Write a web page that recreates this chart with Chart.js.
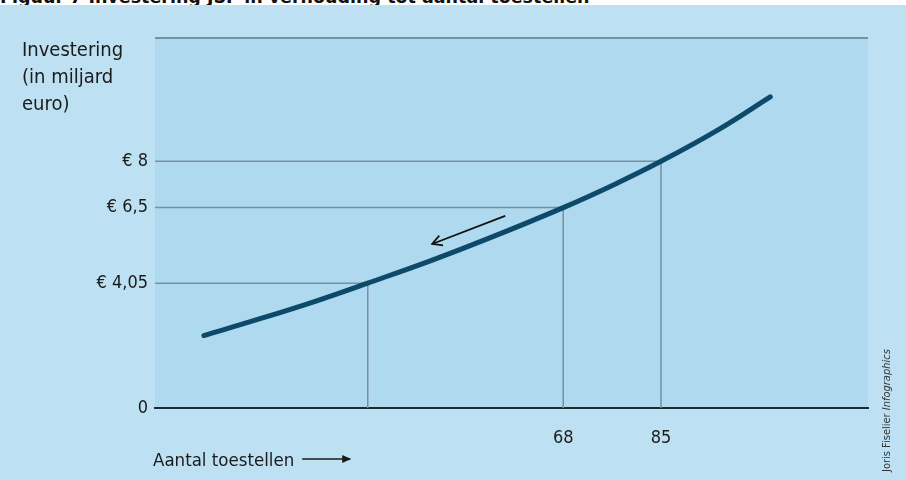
<!DOCTYPE html>
<html>
<head>
<meta charset="utf-8">
<script src="https://cdn.jsdelivr.net/npm/chart.js@4.4.1/dist/chart.umd.min.js"></script>
<style>
  body { margin: 0; background: #fff; }
  #wrap { position: relative; width: 906px; height: 480px; overflow: hidden; }
  #topTitle {
    position: absolute; left: 0; top: 0; width: 906px; height: 5px;
    overflow: hidden; background: #fff; z-index: 2;
  }
  #topTitle span {
    position: absolute; left: 0; top: -10px; white-space: nowrap;
    font: bold 17.5px/14px "DejaVu Sans", sans-serif; color: #111;
  }
</style>
</head>
<body>
<div id="wrap">
  <div id="topTitle"><span>Figuur 7 Investering JSF in verhouding tot aantal toestellen</span></div>
  <canvas id="chart" width="906" height="480"></canvas>
</div>
<script>
    // curve (aantal toestellen -> miljard euro)
    const toestellen = [5.5, 15, 25, 34, 45, 55, 68, 77, 85, 95, 104];
    const investering = [2.35, 2.88, 3.47, 4.05, 4.78, 5.50, 6.5, 7.26, 8.0, 9.03, 10.09];

    // marked points with their guide lines
    const markX = [34, 68, 85];
    const markY = [4.05, 6.5, 8];

    const xTicks = [68, 85];
    const yTicks = [0, 4.05, 6.5, 8];

    const xMin = -3, xMax = 121;
    const yMin = 0, yMax = 12;

    // direction arrow on the chart: [from, to] in data units
    const arrowFrom = [57.9, 6.23];
    const arrowTo = [45.2, 5.32];

    const labelFont = '"DejaVu Sans Condensed", "DejaVu Sans", sans-serif';
    const outerBg = '#bde1f2';
    const innerBg = '#aed9ee';
    const guideColor = '#7890a0';

    const curvePoints = toestellen.map((x, i) => ({ x: x, y: investering[i] }));

    const guideSets = markX.map((x, i) => ({
        data: [{ x: xMin, y: markY[i] }, { x: x, y: markY[i] }, { x: x, y: yMin }],
        borderColor: guideColor,
        borderWidth: 1.5,
        pointRadius: 0,
        tension: 0,
        order: 2
    }));

    const topLine = {
        data: [{ x: xMin, y: yMax }, { x: xMax, y: yMax }],
        borderColor: '#7891a2',
        borderWidth: 2,
        pointRadius: 0,
        clip: false,
        order: 2
    };

    const background = {
        id: 'background',
        beforeDraw(chart) {
            const ctx = chart.ctx;
            const a = chart.chartArea;
            ctx.save();
            ctx.fillStyle = outerBg;
            ctx.fillRect(0, 5, chart.width, chart.height - 5);
            ctx.fillStyle = innerBg;
            ctx.fillRect(a.left, a.top, a.right - a.left, a.bottom - a.top);
            ctx.restore();
        }
    };

    const extras = {
        id: 'extras',
        afterDraw(chart) {
            const ctx = chart.ctx;
            const xs = chart.scales.x;
            const ys = chart.scales.y;
            const a = chart.chartArea;
            ctx.save();

            // y axis title, three lines
            ctx.fillStyle = '#1a1a1a';
            ctx.font = '20px ' + labelFont;
            ctx.textAlign = 'left';
            ctx.textBaseline = 'alphabetic';
            ['Investering', '(in miljard', 'euro)'].forEach((t, i) => {
                ctx.fillText(t, 22, 56 + i * 27);
            });

            // x axis title with long arrow
            const xt = 'Aantal toestellen';
            ctx.font = '18.5px ' + labelFont;
            ctx.fillText(xt, 153, 466);
            const endX = 153 + ctx.measureText(xt).width;
            ctx.strokeStyle = '#1a1a1a';
            ctx.lineWidth = 1.5;
            ctx.beginPath();
            ctx.moveTo(endX + 8, 459);
            ctx.lineTo(endX + 56, 459);
            ctx.stroke();
            ctx.beginPath();
            ctx.moveTo(endX + 48, 455);
            ctx.lineTo(endX + 57, 459);
            ctx.lineTo(endX + 48, 463);
            ctx.closePath();
            ctx.fillStyle = '#1a1a1a';
            ctx.fill();

            // direction arrow
            const x1 = xs.getPixelForValue(arrowFrom[0]);
            const y1 = ys.getPixelForValue(arrowFrom[1]);
            const x2 = xs.getPixelForValue(arrowTo[0]);
            const y2 = ys.getPixelForValue(arrowTo[1]);
            const ang = Math.atan2(y2 - y1, x2 - x1);
            ctx.strokeStyle = '#111';
            ctx.lineWidth = 1.7;
            ctx.beginPath();
            ctx.moveTo(x1, y1);
            ctx.lineTo(x2, y2);
            ctx.stroke();
            ctx.beginPath();
            ctx.moveTo(x2 + 11 * Math.cos(ang + Math.PI - 0.5), y2 + 11 * Math.sin(ang + Math.PI - 0.5));
            ctx.lineTo(x2, y2);
            ctx.lineTo(x2 + 11 * Math.cos(ang + Math.PI + 0.5), y2 + 11 * Math.sin(ang + Math.PI + 0.5));
            ctx.stroke();

            // credit, rotated
            ctx.translate(a.right + 19, 472);
            ctx.rotate(-Math.PI / 2);
            ctx.fillStyle = '#333';
            ctx.textBaseline = 'middle';
            ctx.font = '11px ' + labelFont;
            const c1 = 'Joris Fiselier ';
            ctx.fillText(c1, 0, 0);
            const w = ctx.measureText(c1).width;
            ctx.font = 'italic 11px ' + labelFont;
            ctx.fillText('Infographics', w, 0);
            ctx.restore();
        }
    };

    new Chart(document.getElementById('chart'), {
        type: 'line',
        data: {
            datasets: [
                {
                    data: curvePoints,
                    borderColor: '#0d4a69',
                    borderWidth: 5,
                    borderCapStyle: 'round',
                    pointRadius: 0,
                    tension: 0.4,
                    order: 1
                },
                topLine
            ].concat(guideSets)
        },
        options: {
            responsive: false,
            animation: false,
            devicePixelRatio: 1,
            layout: { padding: { top: 38, right: 38, left: 0, bottom: 0 } },
            plugins: {
                legend: { display: false },
                tooltip: { enabled: false }
            },
            scales: {
                x: {
                    type: 'linear',
                    min: xMin,
                    max: xMax,
                    afterBuildTicks: axis => { axis.ticks = xTicks.map(v => ({ value: v })); },
                    afterFit: axis => { axis.height = 72; },
                    grid: { display: false, drawTicks: false },
                    border: { display: true, color: '#1c2a33', width: 2 },
                    ticks: {
                        padding: 20,
                        color: '#1a1a1a',
                        font: { family: labelFont, size: 18 },
                        callback: v => String(v)
                    }
                },
                y: {
                    type: 'linear',
                    min: yMin,
                    max: yMax,
                    afterBuildTicks: axis => { axis.ticks = yTicks.map(v => ({ value: v })); },
                    afterFit: axis => { axis.width = 155; },
                    grid: { display: false, drawTicks: false },
                    border: { display: false },
                    ticks: {
                        padding: 7,
                        color: '#1a1a1a',
                        font: { family: labelFont, size: 18 },
                        callback: v => v === 0 ? '0' : '€ ' + String(v).replace('.', ',')
                    }
                }
            }
        },
        plugins: [background, extras]
    });
</script>
</body>
</html>
